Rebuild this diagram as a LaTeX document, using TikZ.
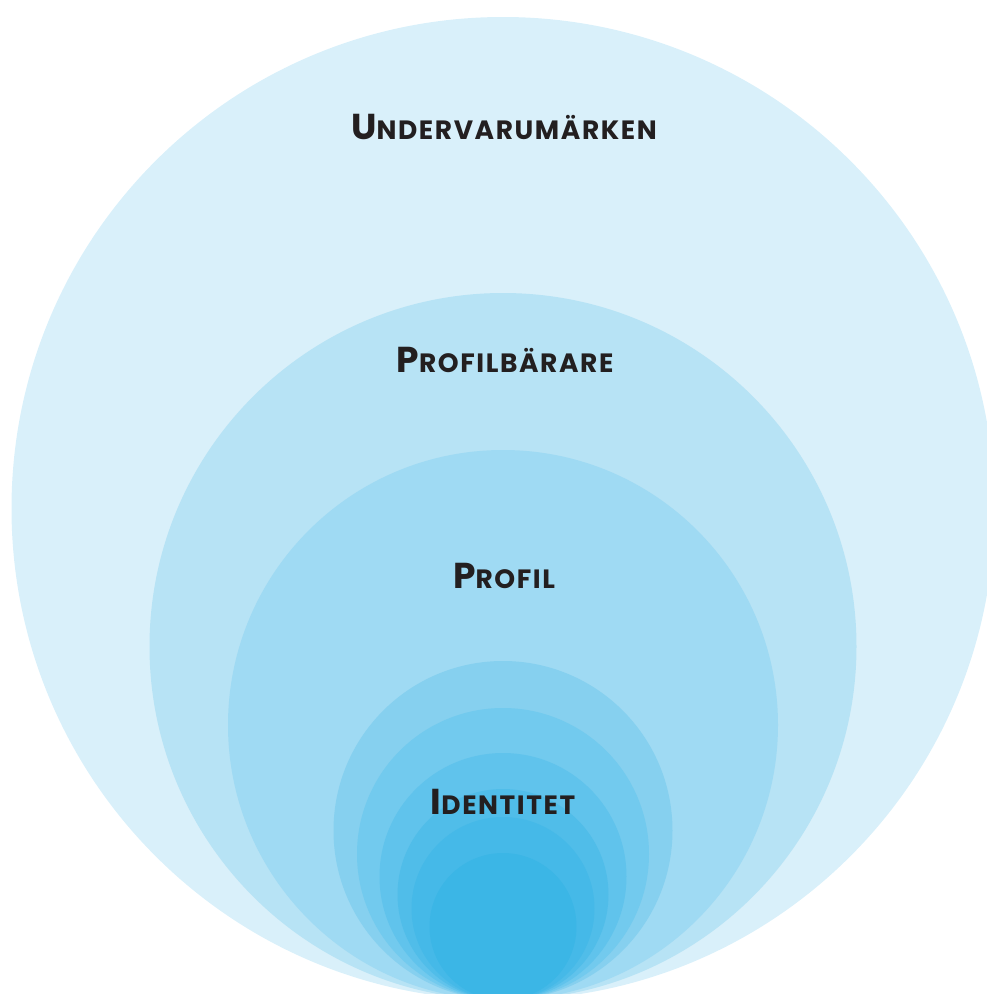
\documentclass[tikz,border=0pt]{standalone}
\usepackage{tikz}
\usepackage{fontspec}
\setmainfont{Poppins}
\usepackage{color}
\definecolor{ringa}{RGB}{217,240,250}
\definecolor{ringb}{RGB}{183,227,245}
\definecolor{ringc}{RGB}{159,218,243}
\definecolor{ringd}{RGB}{134,208,239}
\definecolor{ringe}{RGB}{114,202,238}
\definecolor{ringf}{RGB}{96,195,236}
\definecolor{ringg}{RGB}{80,189,233}
\definecolor{ringh}{RGB}{69,185,232}
\definecolor{ringi}{RGB}{59,182,230}
\definecolor{inktext}{RGB}{35,31,32}
\newcommand{\smcap}[2]{\addfontfeature{LetterSpace=6}{\fontsize{36}{36}\selectfont #1}{\fontsize{26.5}{26.5}\selectfont #2}}
\tikzset{ringlabel/.style={inner sep=0pt,text=inktext,font=\bfseries,anchor=base}}

\begin{document}
\begin{tikzpicture}[x=1pt,y=-1pt]
        \useasboundingbox (0,0) rectangle (987,994);
        \clip (0,0) rectangle (987,994);

        \coordinate (c1) at (503,508.5);
        \coordinate (c2) at (503,646.5);
        \coordinate (c3) at (503,725);
        \coordinate (c4) at (503,830.5);
        \coordinate (c5) at (503,854);
        \coordinate (c6) at (503,876.5);
        \coordinate (c7) at (503,894.5);
        \coordinate (c8) at (503,908.5);
        \coordinate (c9) at (503,926.5);

        \fill[ringa] (c1) circle[radius=491.5];
        \fill[ringb] (c2) circle[radius=353.5];
        \fill[ringc] (c3) circle[radius=275];
        \fill[ringd] (c4) circle[radius=169.5];
        \fill[ringe] (c5) circle[radius=146];
        \fill[ringf] (c6) circle[radius=123.5];
        \fill[ringg] (c7) circle[radius=105.5];
        \fill[ringh] (c8) circle[radius=91.5];
        \fill[ringi] (c9) circle[radius=73.5];

        \node[ringlabel] (undervar) at (504,139) {\smcap{U}{NDERVARUMÄRKEN}};
        \node[ringlabel] (profbar) at (505,372) {\smcap{P}{ROFILBÄRARE}};
        \node[ringlabel] (profil) at (504,588) {\smcap{P}{ROFIL}};
        \node[ringlabel] (ident) at (503,814) {\smcap{I}{DENTITET}};
\end{tikzpicture}
\end{document}
